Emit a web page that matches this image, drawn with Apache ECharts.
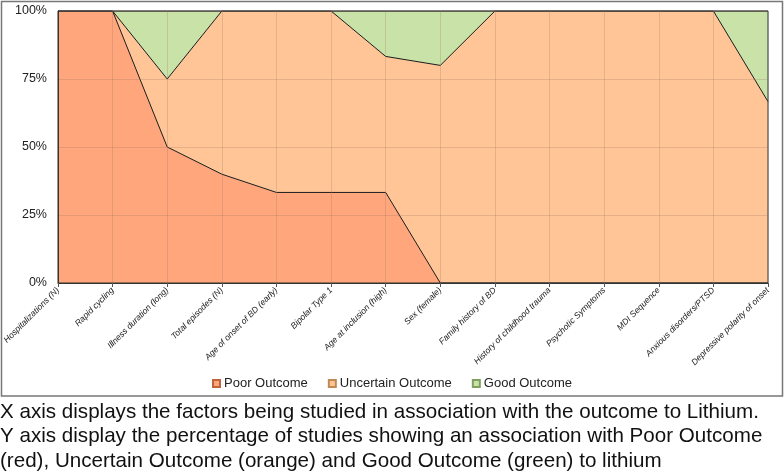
<!DOCTYPE html>
<html>
<head>
<meta charset="utf-8">
<script src="https://cdn.jsdelivr.net/npm/echarts@6/dist/echarts.min.js"></script>
<style>
html,body{margin:0;padding:0;background:#fff;}
#c{width:784px;height:473px;}
</style>
</head>
<body>
<div id="c"></div>
<script>
const categories = ['Hospitalizations (N)','Rapid cycling','Illness duration (long)','Total episodes (N)','Age of onset of BD (early)','Bipolar Type 1','Age at inclusion (high)','Sex (female)','Family history of BD','History of childhood trauma','Psychotic Symptoms','MDI Sequence','Anxious disorders/PTSD','Depressive polarity of onset'];
const poorOutcome = [100,100,50,40,33.3,33.3,33.3,0,0,0,0,0,0,0];
const uncertainOutcome = [0,0,25,60,66.7,66.7,50,80,100,100,100,100,100,66.7];
const goodOutcome = [0,0,25,0,0,0,16.7,20,0,0,0,0,0,33.3];
const yTicks = [0,25,50,75,100];
const captionLines = [
  'X axis displays the factors being studied in association with the outcome to Lithium.',
  'Y axis display the percentage of studies showing an association with Poor Outcome',
  '(red), Uncertain Outcome (orange) and Good Outcome (green) to lithium'
];

const chart = echarts.init(document.getElementById('c'), null, {renderer:'canvas'});
function areaSeries(name, data, color, border){
  return {
    name: name, type: 'line', stack: 'total', data: data,
    symbol: 'none', showSymbol: false,
    lineStyle: {color: '#1a1a1a', width: 1},
    areaStyle: {color: color, opacity: 1},
    itemStyle: {color: color, borderColor: border, borderWidth: 1},
    emphasis: {disabled: true},
    z: 2
  };
}
chart.setOption({
  animation: false,
  backgroundColor: '#fff',
  grid: {left: 57, right: 16, top: 11, bottom: 190, show: true, borderColor: '#333', borderWidth: 1, z: 4},
  legend: {
    data: ['Poor Outcome','Uncertain Outcome','Good Outcome'],
    top: 372, left: 'center',
    icon: 'rect', itemWidth: 7, itemHeight: 7, itemGap: 20,
    textStyle: {fontFamily: 'Liberation Sans, Arial, sans-serif', fontSize: 13, color: '#222', padding: [0,0,0,-1]}
  },
  xAxis: {
    type: 'category', data: categories, boundaryGap: false, z: 5,
    axisLine: {show: true, lineStyle: {color: '#333', width: 1}},
    axisTick: {show: true, length: 4, lineStyle: {color: '#555'}},
    splitLine: {show: true, lineStyle: {color: 'rgba(150,110,90,0.25)', width: 1}},
    axisLabel: {interval: 0, rotate: 45, margin: 6, fontSize: 8.6, fontStyle: 'italic',
      fontFamily: 'Liberation Sans, Arial, sans-serif', color: '#222'}
  },
  yAxis: {
    type: 'value', min: 0, max: 100, interval: 25, z: 5,
    axisLine: {show: true, lineStyle: {color: '#333', width: 1}},
    axisTick: {show: false},
    splitLine: {show: true, lineStyle: {color: 'rgba(150,110,90,0.25)', width: 1}},
    axisLabel: {formatter: function(v){ return yTicks.indexOf(v) >= 0 ? v + '%' : ''; }, margin: 11, fontSize: 12.5,
      fontFamily: 'Liberation Sans, Arial, sans-serif', color: '#222'}
  },
  series: [
    areaSeries('Poor Outcome', poorOutcome, '#FFA67C', '#C0653A'),
    areaSeries('Uncertain Outcome', uncertainOutcome, '#FFC596', '#C08a55'),
    areaSeries('Good Outcome', goodOutcome, '#C9E2A8', '#7FA060')
  ],
  graphic: [
    {type: 'rect', shape: {x: 1.5, y: 1.5, width: 781, height: 394.5}, style: {fill: 'none', stroke: '#777', lineWidth: 1.5}, silent: true, z: 10},
    {type: 'text', left: 0, top: 399.5, style: {text: captionLines.join('\n'), fontSize: 20.6, lineHeight: 24.8,
      fontFamily: 'Liberation Sans, Arial, sans-serif', fill: '#111'}, z: 10}
  ]
});
</script>
</body>
</html>
